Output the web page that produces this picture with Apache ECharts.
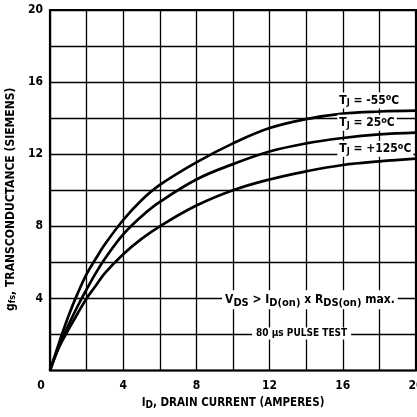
<!DOCTYPE html>
<html><head><meta charset="utf-8">
<script src="https://cdn.jsdelivr.net/npm/echarts@6/dist/echarts.min.js"></script>
<style>html,body{margin:0;padding:0;background:#fff}#c{width:417px;height:417px}</style>
</head><body><div id="c"></div>
<script>
const xTicks = [0, 4, 8, 12, 16, 20];
const yTicks = [4, 8, 12, 16, 20];
const drainCurrent = [0, 0.5, 1, 1.5, 2, 2.5, 3, 4, 5, 6, 8, 10, 12, 14, 16, 18, 20];
const gfsMinus55 = [0, 1.55, 3.0, 4.25, 5.35, 6.2, 7.0, 8.35, 9.45, 10.3, 11.55, 12.6, 13.45, 13.95, 14.25, 14.37, 14.42];
const gfs25 = [0, 1.35, 2.5, 3.55, 4.5, 5.4, 6.2, 7.55, 8.55, 9.35, 10.6, 11.45, 12.15, 12.6, 12.9, 13.1, 13.2];
const gfs125 = [0, 1.3, 2.25, 3.15, 4.0, 4.7, 5.4, 6.45, 7.3, 8.0, 9.15, 10.0, 10.6, 11.05, 11.4, 11.6, 11.75];
const curveLabels = [
  {x: 15.7, y: 14.98, t: '-55'},
  {x: 15.7, y: 13.74, t: '25'},
  {x: 15.7, y: 12.3, t: '+125'}
];
const vdsNote = {x: 9.4, y: 3.92};
const pulseNote = {x: 13.75, y: 2.05};

const FONT = '"DejaVu Sans Condensed", "Liberation Sans Narrow", "Roboto Condensed", Arial, sans-serif';
const chart = echarts.init(document.getElementById('c'), null, {renderer: 'canvas'});
const pairs = arr => drainCurrent.map((x, i) => [x, arr[i]]);
const lineStyle = {color: '#000', width: 2.7};
const mk = (c) => ({
  coord: [c.x, c.y], symbol: 'rect', symbolSize: 0,
  label: {
    show: true, position: 'inside', align: 'left', verticalAlign: 'middle',
    formatter: 'T{sub|J} = ' + c.t + '{sup|o}C',
    fontFamily: FONT, fontWeight: 'bold', fontSize: 12, color: '#000',
    backgroundColor: '#fff', padding: [1, 2, 1, 2],
    rich: {
      sub: {fontFamily: FONT, fontWeight: 'bold', fontSize: 9, verticalAlign: 'bottom', padding: [5, 0, 0, 0]},
      sup: {fontFamily: FONT, fontWeight: 'bold', fontSize: 9, verticalAlign: 'top', padding: [0, 0, 4, 0]}
    }
  }
});
const series = [
  {type: 'line', data: pairs(gfsMinus55), smooth: 0.4, symbol: 'none', lineStyle, z: 3,
   markPoint: {silent: true, animation: false, data: curveLabels.map(mk)}},
  {type: 'line', data: pairs(gfs25), smooth: 0.4, symbol: 'none', lineStyle, z: 3},
  {type: 'line', data: pairs(gfs125), smooth: 0.4, symbol: 'none', lineStyle, z: 3,
   markPoint: {silent: true, animation: false, data: [
     {coord: [vdsNote.x, vdsNote.y], symbol: 'rect', symbolSize: 0,
      label: {show: true, position: 'inside', align: 'left', verticalAlign: 'middle',
        formatter: 'V{sub|DS} > I{sub|D(on)} x R{sub|DS(on)} max.',
        fontFamily: FONT, fontWeight: 'bold', fontSize: 12, color: '#000',
        backgroundColor: '#fff', padding: [1, 3, 1, 3],
        rich: {sub: {fontFamily: FONT, fontWeight: 'bold', fontSize: 11, verticalAlign: 'bottom', padding: [6, 0, 0, 0]}}}},
     {coord: [pulseNote.x, pulseNote.y], symbol: 'rect', symbolSize: 0,
      label: {show: true, position: 'inside', align: 'center', verticalAlign: 'middle',
        formatter: '80 µs PULSE TEST',
        fontFamily: FONT, fontWeight: 'bold', fontSize: 10, color: '#000',
        backgroundColor: '#fff', padding: [1, 4, 1, 4]}}
   ]}}
];
chart.setOption({
  animation: false,
  backgroundColor: '#fff',
  grid: {left: 50, right: 1, top: 10, bottom: 46.5, show: true, borderColor: '#000', borderWidth: 2.2, z: 4,
         containLabel: false, outerBoundsMode: 'none'},
  xAxis: {
    type: 'value', min: 0, max: 20, interval: 2,
    name: 'I{sub|D}, DRAIN CURRENT (AMPERES)', nameLocation: 'middle', nameGap: 25,
    nameTextStyle: {fontFamily: FONT, fontWeight: 'bold', fontSize: 11.5, color: '#000',
      rich: {sub: {fontFamily: FONT, fontWeight: 'bold', fontSize: 10, verticalAlign: 'bottom', padding: [5, 0, 0, 0]}}},
    axisLine: {show: false}, axisTick: {show: false},
    splitLine: {show: true, lineStyle: {color: '#000', width: 1.3}},
    axisLabel: {
      margin: 9, fontFamily: FONT, fontWeight: 'bold', fontSize: 12, color: '#000', showMaxLabel: true,
      formatter: v => v === 0 ? '{z|0}' : (xTicks.includes(v) ? String(v) : ''),
      rich: {z: {fontFamily: FONT, fontWeight: 'bold', fontSize: 12, color: '#000', padding: [0, 18, 0, 0]}}
    }
  },
  yAxis: {
    type: 'value', min: 0, max: 20, interval: 2,
    name: 'g{sub|fs}, TRANSCONDUCTANCE (SIEMENS)', nameLocation: 'middle', nameGap: 33, nameRotate: 90,
    nameTextStyle: {fontFamily: FONT, fontWeight: 'bold', fontSize: 12, color: '#000', padding: [0, 18, 0, 0],
      rich: {sub: {fontFamily: FONT, fontWeight: 'bold', fontSize: 9, verticalAlign: 'bottom', padding: [4, 0, 0, 0]}}},
    axisLine: {show: false}, axisTick: {show: false},
    splitLine: {show: true, lineStyle: {color: '#000', width: 1.3}},
    axisLabel: {
      margin: 7, fontFamily: FONT, fontWeight: 'bold', fontSize: 12, color: '#000',
      formatter: v => yTicks.includes(v) ? String(v) : ''
    }
  },
  series
});
</script></body></html>
